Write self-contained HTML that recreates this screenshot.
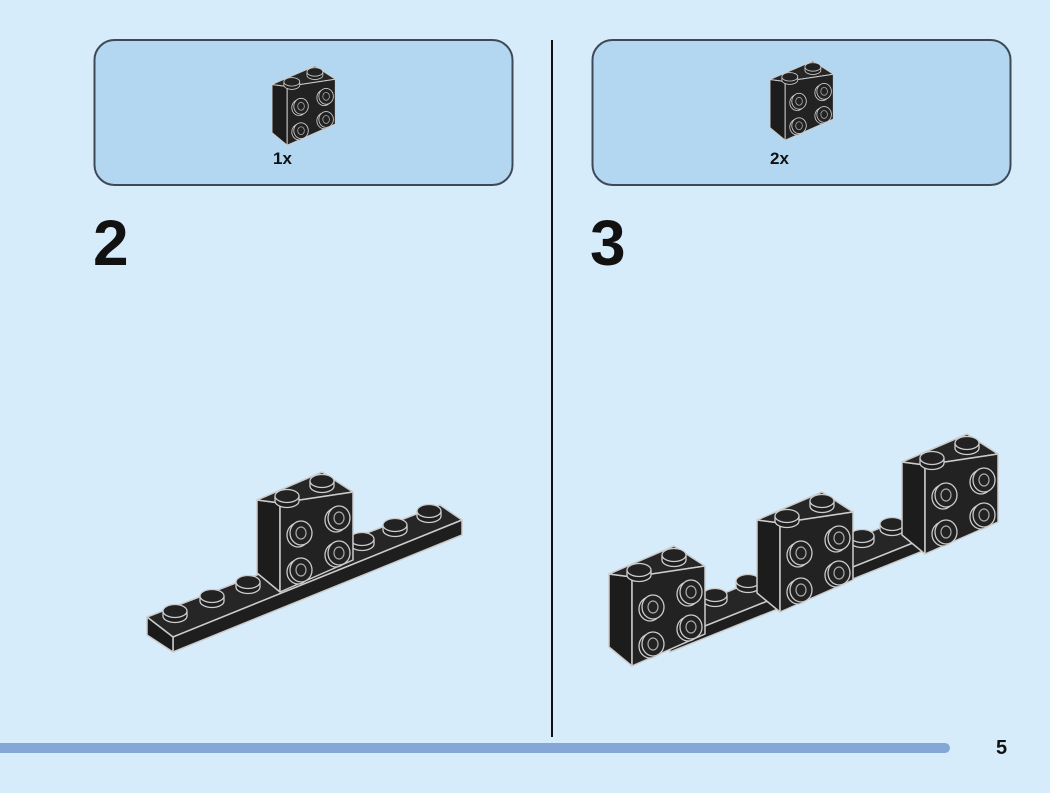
<!DOCTYPE html>
<html><head><meta charset="utf-8"><style>
html,body{margin:0;padding:0;background:#d6ecfb;}
svg{display:block}
text{font-family:"Liberation Sans",sans-serif;font-weight:bold;fill:#111}
</style></head><body>
<svg width="1050" height="793" viewBox="0 0 1050 793" xmlns="http://www.w3.org/2000/svg">
<defs>
<g id="stud">
<ellipse cx="0" cy="4" rx="12" ry="6.5" fill="#1e1e1e" stroke="#ccc" stroke-width="1.3"/>
<rect x="-12" y="-1" width="24" height="5" fill="#1e1e1e"/>
<line x1="-12" y1="-1" x2="-12" y2="4" stroke="#ccc" stroke-width="1.3"/>
<line x1="12" y1="-1" x2="12" y2="4" stroke="#ccc" stroke-width="1.3"/>
<ellipse cx="0" cy="-1" rx="12" ry="6.5" fill="#222" stroke="#ccc" stroke-width="1.3"/>
</g>
<g id="fstud">
<ellipse cx="-2" cy="2" rx="11" ry="12" fill="#1e1e1e" stroke="#ccc" stroke-width="1.3"/>
<ellipse cx="1" cy="0" rx="11" ry="12" fill="#222" stroke="#ccc" stroke-width="1.3"/>
<ellipse cx="1" cy="0" rx="5" ry="6" fill="none" stroke="#aaa" stroke-width="1.2"/>
</g>
<g id="brick" stroke-linejoin="round">
<polygon points="257,500 280,503 280,592 257,573" fill="#1c1c1c" stroke="#ccc" stroke-width="1.5"/>
<polygon points="257,500 322,472 353,492 280,503" fill="#262626" stroke="#ccc" stroke-width="1.5"/>
<polygon points="280,503 353,492 353,560 280,592" fill="#222" stroke="#ccc" stroke-width="1.5"/>
<use href="#stud" x="322" y="482"/>
<use href="#stud" x="287" y="497"/>
<use href="#fstud" x="300" y="533"/>
<use href="#fstud" x="338" y="518"/>
<use href="#fstud" x="300" y="570"/>
<use href="#fstud" x="338" y="553"/>
</g>
</defs>
<rect width="1050" height="793" fill="#d6ecfb"/>
<!-- parts boxes -->
<rect x="94.5" y="40" width="418" height="145" rx="20" fill="#b3d7f1" stroke="#3d4a55" stroke-width="2"/>
<rect x="592.5" y="40" width="418" height="145" rx="20" fill="#b3d7f1" stroke="#3d4a55" stroke-width="2"/>
<g transform="translate(272,66) scale(0.66) translate(-257,-472)"><use href="#brick"/></g>
<g transform="translate(770,61) scale(0.66) translate(-257,-472)"><use href="#brick"/></g>
<text x="273" y="164" font-size="17">1x</text>
<text x="770" y="164" font-size="17">2x</text>
<text x="93" y="265" font-size="64">2</text>
<text x="590" y="265" font-size="64">3</text>
<!-- divider -->
<line x1="552" y1="40" x2="552" y2="737" stroke="#111" stroke-width="2"/>
<rect x="-10" y="743" width="960" height="10" rx="5" fill="#84a7d8"/>
<text x="996" y="754" font-size="20">5</text>
<!-- step 2 -->
<g stroke="#ccc" stroke-width="1.5" stroke-linejoin="round">
<polygon points="147,617 440,505 462,520 173,637" fill="#262626"/>
<polygon points="173,637 462,520 462,535 173,652" fill="#1e1e1e"/>
<polygon points="147,617 173,637 173,652 147,635" fill="#1a1a1a"/>
</g>
<use href="#stud" x="175" y="612"/>
<use href="#stud" x="212" y="597"/>
<use href="#stud" x="248" y="583"/>
<use href="#stud" x="362" y="540"/>
<use href="#stud" x="395" y="526"/>
<use href="#stud" x="429" y="512"/>
<use href="#brick"/>
<!-- step 3 -->
<g stroke="#ccc" stroke-width="1.5" stroke-linejoin="round">
<polygon points="660,620 935,505 958,525 670,640" fill="#262626"/>
<polygon points="670,640 958,525 958,537 670,652" fill="#1e1e1e"/>
</g>
<use href="#stud" x="862" y="537"/>
<use href="#stud" x="892" y="525"/>
<use href="#brick" transform="translate(645,-38)"/>
<use href="#stud" x="715" y="596"/>
<use href="#stud" x="748" y="582"/>
<use href="#brick" transform="translate(500,20)"/>
<use href="#brick" transform="translate(352,74)"/>
</svg>
</body></html>
